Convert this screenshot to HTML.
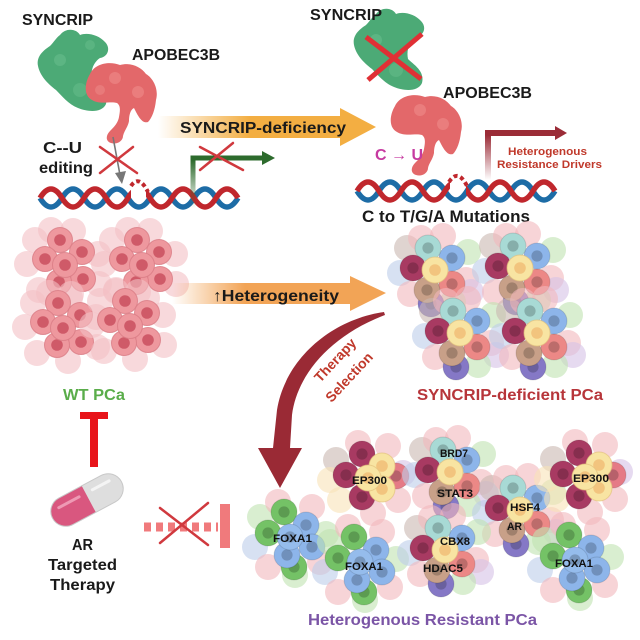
<!DOCTYPE html>
<html><head><meta charset="utf-8"><style>
html,body{margin:0;padding:0;background:#fff}
svg{display:block}
text{font-family:"Liberation Sans",Arial,sans-serif;font-weight:bold}
</style></head><body>
<svg width="640" height="640" viewBox="0 0 640 640" xmlns="http://www.w3.org/2000/svg">
<defs>
<linearGradient id="og1" gradientUnits="userSpaceOnUse" x1="158" y1="0" x2="250" y2="0"><stop offset="0" stop-color="#f3ae42" stop-opacity="0"/><stop offset="1" stop-color="#f3ae42"/></linearGradient>
<linearGradient id="og2" gradientUnits="userSpaceOnUse" x1="172" y1="0" x2="245" y2="0"><stop offset="0" stop-color="#f2a456" stop-opacity="0"/><stop offset="1" stop-color="#f2a456"/></linearGradient>
<linearGradient id="gg" gradientUnits="userSpaceOnUse" x1="0" y1="208" x2="0" y2="160"><stop offset="0" stop-color="#2d6b2d" stop-opacity="0"/><stop offset="1" stop-color="#2d6b2d"/></linearGradient>
<linearGradient id="rg" gradientUnits="userSpaceOnUse" x1="0" y1="180" x2="0" y2="135"><stop offset="0" stop-color="#9b2c37" stop-opacity="0"/><stop offset="1" stop-color="#9b2c37"/></linearGradient>
<clipPath id="cl1"><rect x="0" y="0" width="131" height="640"/><rect x="146" y="0" width="300" height="640"/></clipPath>
<clipPath id="cl2"><rect x="300" y="0" width="150" height="640"/><rect x="466" y="0" width="200" height="640"/></clipPath>

<g id="c"><circle r="13" fill="currentColor"/><circle r="13" fill="none" stroke="#000" stroke-opacity=".12"/><circle r="5.6" fill="#000" fill-opacity=".2"/></g>
<g id="cy"><circle r="13" fill="#f8e4a2" stroke="#e2c27e" stroke-opacity=".7"/><circle r="5.8" fill="#f2c47e"/></g>
<g id="cw"><circle r="12.5" fill="#ee989e" stroke="#d97c85" stroke-opacity=".8"/><circle r="5.8" fill="#cf5a68"/></g>
<circle id="h" r="13" fill="currentColor" opacity=".6"/>

<g id="wt">
<use href="#h" x="-30" y="-22" style="color:#f3c0c4"/>
<use href="#h" x="8" y="-31" style="color:#f3c0c4"/>
<use href="#h" x="33" y="-8" style="color:#f3c0c4"/>
<use href="#h" x="34" y="22" style="color:#f3c0c4"/>
<use href="#h" x="5" y="36" style="color:#f3c0c4"/>
<use href="#h" x="-26" y="28" style="color:#f3c0c4"/>
<use href="#h" x="-38" y="2" style="color:#f3c0c4"/>
<use href="#h" x="-14" y="-32" style="color:#f3c0c4"/>
<use href="#cw" x="-5" y="-22"/>
<use href="#cw" x="17" y="-10"/>
<use href="#cw" x="-20" y="-3"/>
<use href="#cw" x="18" y="17"/>
<use href="#cw" x="-6" y="20"/>
<use href="#cw" x="0" y="3"/>
</g>

<g id="sd">
<use href="#h" x="-28" y="-22" style="color:#c9b8b0"/>
<use href="#h" x="-14" y="-32" style="color:#f2b8bc"/>
<use href="#h" x="8" y="-34" style="color:#f2b8bc"/>
<use href="#h" x="-35" y="3" style="color:#bccdea"/>
<use href="#h" x="33" y="-18" style="color:#bfe3b0"/>
<use href="#h" x="31" y="10" style="color:#f2b8bc"/>
<use href="#h" x="36" y="22" style="color:#d6c2e6"/>
<use href="#h" x="-25" y="24" style="color:#f2b8bc"/>
<use href="#h" x="18" y="32" style="color:#bfe3b0"/>
<use href="#c" x="-4" y="34" style="color:#8578c6"/>
<use href="#c" x="-8" y="20" style="color:#c8a088"/>
<use href="#c" x="17" y="14" style="color:#ec8886"/>
<use href="#c" x="17" y="-12" style="color:#8db5ea"/>
<use href="#c" x="-7" y="-22" style="color:#a8dad5"/>
<use href="#c" x="-22" y="-2" style="color:#a83a62"/>
<use href="#cy" x="0" y="0"/>
</g>

<g id="ep">
<use href="#h" x="-32" y="-18" style="color:#c9b8b0"/>
<use href="#h" x="-10" y="-35" style="color:#f2b8bc"/>
<use href="#h" x="20" y="-32" style="color:#f2b8bc"/>
<use href="#h" x="35" y="-5" style="color:#d6c2e6"/>
<use href="#h" x="30" y="22" style="color:#f2b8bc"/>
<use href="#h" x="5" y="35" style="color:#f2b8bc"/>
<use href="#h" x="-28" y="22" style="color:#f8e2b8"/>
<use href="#h" x="-38" y="2" style="color:#f8e2b8"/>
<use href="#c" x="28" y="-2" style="color:#e57a86"/>
<use href="#c" x="-6" y="-24" style="color:#a83a62"/>
<use href="#c" x="-22" y="-3" style="color:#a83a62"/>
<use href="#c" x="-6" y="19" style="color:#a83a62"/>
<use href="#cy" x="14" y="-12"/>
<use href="#cy" x="14" y="11"/>
<use href="#cy" x="0" y="0"/>
</g>

<g id="fx">
<use href="#h" x="-30" y="-20" style="color:#bfe3b0"/>
<use href="#h" x="-12" y="-35" style="color:#f2b8bc"/>
<use href="#h" x="22" y="-30" style="color:#f2b8bc"/>
<use href="#h" x="36" y="-3" style="color:#bfe3b0"/>
<use href="#h" x="30" y="25" style="color:#f2b8bc"/>
<use href="#h" x="5" y="38" style="color:#bfe3b0"/>
<use href="#h" x="-35" y="10" style="color:#bccdea"/>
<use href="#h" x="-22" y="30" style="color:#f2b8bc"/>
<use href="#c" x="4" y="30" style="color:#74c266"/>
<use href="#c" x="-6" y="-25" style="color:#74c266"/>
<use href="#c" x="-22" y="-4" style="color:#74c266"/>
<use href="#c" x="16" y="-12" style="color:#8db5ea"/>
<use href="#c" x="22" y="10" style="color:#8db5ea"/>
<use href="#c" x="-3" y="18" style="color:#8db5ea"/>
<use href="#c" x="0" y="0" style="color:#95bcec"/>
</g>

<path id="gb" d="M60 35 C66 27,77 29,80 35 C87 32,99 35,105 42 C111 48,108 57,100 58 C94 62,90 70,92 80 C98 86,109 92,106 104 C102 113,88 112,78 108 C68 104,62 96,56 90 C48 84,40 76,38 66 C36 56,44 50,50 46 C54 42,56 38,60 35 Z"/>
<path id="rb" d="M90 74 C95 63,110 61,120 65 C131 62,141 67,146 74 C153 78,159 89,156 100 C155 110,152 118,148 122 C142 124,138 116,134 108 C130 110,129 116,129 121 C128 127,124 131,123 136 C123 141,117 145,111 143 C105 141,106 135,110 131 C114 127,118 123,119 117 C120 111,121 106,117 103 C110 101,100 105,92 100 C84 96,84 84,90 74 Z"/>
</defs>

<!-- top orange arrow -->
<polygon points="158,116 340,116 340,108 376,127 340,146 340,138 158,138" fill="url(#og1)"/>
<text x="180" y="133" font-size="16" textLength="166" lengthAdjust="spacingAndGlyphs" fill="#1a1a1a">SYNCRIP-deficiency</text>

<!-- left proteins -->
<use href="#gb" fill="#4caa76"/>
<circle cx="60" cy="60" r="6" fill="#68bd8c" opacity=".6"/>
<circle cx="80" cy="90" r="7" fill="#68bd8c" opacity=".5"/>
<circle cx="90" cy="45" r="5" fill="#68bd8c" opacity=".5"/>
<use href="#rb" fill="#e3686a"/>
<circle cx="115" cy="78" r="6" fill="#ee8c8a" opacity=".6"/>
<circle cx="138" cy="92" r="6" fill="#ee8c8a" opacity=".6"/>
<circle cx="100" cy="90" r="5" fill="#ee8c8a" opacity=".5"/>
<text x="22" y="25" font-size="16" textLength="71" lengthAdjust="spacingAndGlyphs" fill="#1a1a1a">SYNCRIP</text>
<text x="132" y="60" font-size="16" textLength="88" lengthAdjust="spacingAndGlyphs" fill="#1a1a1a">APOBEC3B</text>
<text x="43" y="153" font-size="16" textLength="39" lengthAdjust="spacingAndGlyphs" fill="#1a1a1a">C--U</text>
<text x="39" y="173" font-size="16" textLength="54" lengthAdjust="spacingAndGlyphs" fill="#1a1a1a">editing</text>

<!-- gray arrow -->
<line x1="113" y1="137" x2="120" y2="175" stroke="#777" stroke-width="1.6"/>
<polygon points="115,173 126,171 122,184" fill="#777"/>

<!-- left helix -->
<path d="M40 198 q11 18 22 0 t22 0 t22 0 t22 0 t22 0 t22 0 t22 0 t22 0 t22 0" fill="none" stroke="#1d6ca6" stroke-width="5.5"/>
<path clip-path="url(#cl1)" d="M40 198 q11 -18 22 0 t22 0 t22 0 t22 0 t22 0 t22 0 t22 0 t22 0 t22 0" fill="none" stroke="#c0272d" stroke-width="5.5"/>
<path d="M131 186 Q139 174 148 192" fill="none" stroke="#c0272d" stroke-width="4" stroke-dasharray="4 3"/>

<!-- green promoter -->
<path d="M193 208 V158 H264" fill="none" stroke="url(#gg)" stroke-width="5"/>
<path d="M193 158 H264" fill="none" stroke="#2d6b2d" stroke-width="5"/>
<polygon points="262,151 275,158 262,165" fill="#2d6b2d"/>

<!-- red X marks -->
<g stroke="#d0393e" stroke-width="2.5" stroke-linecap="round">
<line x1="100" y1="147" x2="137" y2="173"/><line x1="100" y1="173" x2="133" y2="147"/>
<line x1="200" y1="147" x2="243" y2="170"/><line x1="200" y1="170" x2="233" y2="143"/>
</g>

<!-- right proteins -->
<use href="#gb" fill="#4caa76" transform="translate(316,-21)"/>
<circle cx="376" cy="40" r="6" fill="#68bd8c" opacity=".6"/>
<circle cx="396" cy="70" r="7" fill="#68bd8c" opacity=".5"/>
<g stroke="#e03035" stroke-width="5"><line x1="366" y1="37" x2="421" y2="79"/><line x1="368" y1="80" x2="422" y2="34"/></g>
<use href="#rb" fill="#e3686a" transform="translate(305,32)"/>
<circle cx="420" cy="110" r="6" fill="#ee8c8a" opacity=".6"/>
<circle cx="443" cy="124" r="6" fill="#ee8c8a" opacity=".6"/>
<text x="310" y="20" font-size="16" textLength="72" lengthAdjust="spacingAndGlyphs" fill="#1a1a1a">SYNCRIP</text>
<text x="443" y="98" font-size="16" textLength="89" lengthAdjust="spacingAndGlyphs" fill="#1a1a1a">APOBEC3B</text>
<text x="375" y="160" font-size="16" textLength="48" lengthAdjust="spacingAndGlyphs" fill="#c63aa0">C → U</text>

<!-- dark red promoter -->
<path d="M488 180 V133 H558" fill="none" stroke="url(#rg)" stroke-width="6"/>
<path d="M488 133 H558" fill="none" stroke="#9b2c37" stroke-width="6"/>
<polygon points="555,126 567,133 555,140" fill="#9b2c37"/>
<text x="508" y="155" font-size="11" textLength="79" lengthAdjust="spacingAndGlyphs" fill="#c0392b">Heterogenous</text>
<text x="497" y="168" font-size="11" textLength="105" lengthAdjust="spacingAndGlyphs" fill="#c0392b">Resistance Drivers</text>

<!-- right helix -->
<path d="M357 191 q11 18 22 0 t22 0 t22 0 t22 0 t22 0 t22 0 t22 0 t22 0 t22 0" fill="none" stroke="#1d6ca6" stroke-width="5.5"/>
<path clip-path="url(#cl2)" d="M357 191 q11 -18 22 0 t22 0 t22 0 t22 0 t22 0 t22 0 t22 0 t22 0 t22 0" fill="none" stroke="#c0272d" stroke-width="5.5"/>
<path d="M449 182 Q458 168 467 186" fill="none" stroke="#c0272d" stroke-width="4" stroke-dasharray="4 3"/>
<text x="362" y="222" font-size="17" textLength="168" lengthAdjust="spacingAndGlyphs" fill="#1a1a1a">C to T/G/A Mutations</text>

<!-- WT cluster -->
<use href="#wt" x="65" y="262"/>
<use href="#wt" x="142" y="262"/>
<use href="#wt" x="63" y="325"/>
<use href="#wt" x="130" y="323"/>
<text x="63" y="400" font-size="16" textLength="62" lengthAdjust="spacingAndGlyphs" fill="#5aad4a">WT PCa</text>

<!-- heterogeneity arrow -->
<polygon points="172,283 350,283 350,276 386,293 350,311 350,304 172,304" fill="url(#og2)"/>
<text x="213" y="301" font-size="16" textLength="126" lengthAdjust="spacingAndGlyphs" fill="#1a1a1a">↑Heterogeneity</text>

<!-- SYNCRIP-deficient cluster -->
<use href="#sd" x="435" y="270"/>
<use href="#sd" x="520" y="268"/>
<use href="#sd" x="460" y="333"/>
<use href="#sd" x="537" y="333"/>
<text x="417" y="400" font-size="16" textLength="186" lengthAdjust="spacingAndGlyphs" fill="#b7353a">SYNCRIP-deficient PCa</text>

<!-- therapy selection curved arrow -->
<path d="M384 312 C330 320,285 360,277 410 L273 448 L258 448 L280 488 L302 448 L290 448 L292 415 C297 375,330 336,385 315 Z" fill="#9a2a35"/>
<g fill="#c0392b" font-size="14" text-anchor="middle">
<text transform="translate(335,360) rotate(-47)" x="0" y="5" textLength="54" lengthAdjust="spacingAndGlyphs">Therapy</text>
<text transform="translate(349,377) rotate(-47)" x="0" y="5" textLength="62" lengthAdjust="spacingAndGlyphs">Selection</text>
</g>

<!-- red T -->
<rect x="80" y="412" width="28" height="7" fill="#e8141a"/>
<rect x="90" y="412" width="8" height="55" fill="#e8141a"/>

<!-- pill -->
<g transform="translate(87,500) rotate(-28)">
<rect x="-39" y="-15" width="78" height="30" rx="15" fill="#dedede"/>
<path d="M2 -15 H-24 A15 15 0 0 0 -24 15 H2 Z" fill="#d9577f"/>
<rect x="-30" y="-8" width="26" height="3" rx="1.5" fill="#ee9ab4"/>
<rect x="8" y="-8" width="22" height="3" rx="1.5" fill="#f4f4f4"/>
<rect x="-39" y="-15" width="78" height="30" rx="15" fill="none" stroke="#c8c8c8" stroke-width="1"/>
</g>
<text x="72" y="550" font-size="16" textLength="21" lengthAdjust="spacingAndGlyphs" fill="#1a1a1a">AR</text>
<text x="48" y="570" font-size="16" textLength="69" lengthAdjust="spacingAndGlyphs" fill="#1a1a1a">Targeted</text>
<text x="50" y="590" font-size="16" textLength="65" lengthAdjust="spacingAndGlyphs" fill="#1a1a1a">Therapy</text>

<!-- dotted inhibitor -->
<line x1="144" y1="527" x2="218" y2="527" stroke="#f07a7c" stroke-width="9" stroke-dasharray="7 5"/>
<rect x="220" y="504" width="10" height="44" fill="#f07a7c"/>
<g stroke="#d0393e" stroke-width="2.5" stroke-linecap="round"><line x1="160" y1="508" x2="208" y2="545"/><line x1="160" y1="543" x2="208" y2="503"/></g>

<!-- resistant clusters -->
<use href="#ep" x="368" y="478"/>
<use href="#sd" x="450" y="472"/>
<use href="#sd" x="520" y="510"/>
<use href="#ep" x="585" y="477"/>
<use href="#fx" x="290" y="537"/>
<use href="#fx" x="360" y="562"/>
<use href="#sd" x="445" y="550"/>
<use href="#fx" x="575" y="560"/>
<g font-size="11" fill="#111">
<text x="352" y="484" textLength="35" lengthAdjust="spacingAndGlyphs">EP300</text>
<text x="440" y="457" textLength="28" lengthAdjust="spacingAndGlyphs">BRD7</text>
<text x="437" y="497" textLength="36" lengthAdjust="spacingAndGlyphs">STAT3</text>
<text x="510" y="511" textLength="30" lengthAdjust="spacingAndGlyphs">HSF4</text>
<text x="507" y="530" textLength="15" lengthAdjust="spacingAndGlyphs">AR</text>
<text x="573" y="482" textLength="36" lengthAdjust="spacingAndGlyphs">EP300</text>
<text x="440" y="545" textLength="30" lengthAdjust="spacingAndGlyphs">CBX8</text>
<text x="423" y="572" textLength="40" lengthAdjust="spacingAndGlyphs">HDAC5</text>
<text x="345" y="570" textLength="38" lengthAdjust="spacingAndGlyphs">FOXA1</text>
<text x="555" y="567" textLength="38" lengthAdjust="spacingAndGlyphs">FOXA1</text>
<text x="273" y="542" textLength="39" lengthAdjust="spacingAndGlyphs">FOXA1</text>
</g>
<text x="308" y="625" font-size="16" textLength="229" lengthAdjust="spacingAndGlyphs" fill="#7b55a6">Heterogenous Resistant PCa</text>
</svg>
</body></html>
